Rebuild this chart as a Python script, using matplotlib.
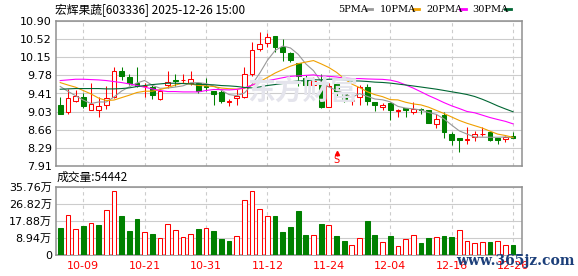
import matplotlib
matplotlib.use('Agg')
import matplotlib.pyplot as plt
from matplotlib.lines import Line2D
import numpy as np
import pandas as pd

plt.rcParams['font.family'] = ['DejaVu Sans', 'Noto Sans CJK SC']

# trading days shown on the chart
dates = ['09-26', '09-29', '09-30', '10-09', '10-10', '10-13', '10-14', '10-15', '10-16', '10-17',
         '10-20', '10-21', '10-22', '10-23', '10-24', '10-27', '10-28', '10-29', '10-30', '10-31',
         '11-03', '11-04', '11-05', '11-06', '11-07', '11-10', '11-11', '11-12', '11-13', '11-14',
         '11-17', '11-18', '11-19', '11-20', '11-21', '11-24', '11-25', '11-26', '11-27', '11-28',
         '12-01', '12-02', '12-03', '12-04', '12-05', '12-08', '12-09', '12-10', '12-11', '12-12',
         '12-15', '12-16', '12-17', '12-18', '12-19', '12-22', '12-23', '12-24', '12-25', '12-26']

opens = [9.17, 9.02, 9.25, 9.34, 9.06, 9.06, 9.16, 9.34, 9.87, 9.75,
         9.62, 9.555, 9.53, 9.29, 9.57, 9.69, 9.68, 9.63, 9.63, 9.56,
         9.46, 9.43, 9.23, 9.32, 9.34, 9.80, 10.32, 10.45, 10.59, 10.36,
         10.25, 10.03, 9.72, 9.58, 9.60, 9.12, 9.60, 9.39, 9.25, 9.34,
         9.53, 9.23, 9.12, 9.20, 9.05, 9.10, 9.03, 9.085, 9.055, 8.77,
         8.965, 8.575, 8.49, 8.45, 8.50, 8.56, 8.61, 8.485, 8.47, 8.535]
highs = [9.34, 9.50, 9.48, 9.41, 9.62, 9.34, 9.55, 9.96, 9.96, 9.80,
         9.96, 9.62, 9.58, 9.45, 9.87, 9.80, 9.80, 9.86, 9.63, 9.73,
         9.46, 9.48, 9.30, 9.50, 9.96, 10.475, 10.67, 10.65, 10.60, 10.52,
         10.27, 10.03, 9.79, 9.755, 9.80, 9.63, 9.65, 9.44, 9.34, 9.58,
         9.60, 9.23, 9.21, 9.23, 9.09, 9.10, 9.23, 9.10, 9.07, 8.98,
         9.03, 8.61, 8.49, 8.71, 8.64, 8.71, 8.61, 8.49, 8.52, 8.62]
lows = [8.99, 8.98, 9.24, 9.10, 9.06, 8.93, 9.09, 9.31, 9.69, 9.57,
        9.54, 9.33, 9.29, 9.27, 9.52, 9.55, 9.62, 9.59, 9.425, 9.45,
        9.16, 9.21, 9.15, 9.16, 9.32, 9.77, 10.28, 10.37, 10.27, 10.08,
        10.06, 9.55, 9.53, 9.58, 9.11, 9.12, 9.34, 9.23, 9.17, 9.17,
        9.17, 9.035, 9.07, 8.86, 8.93, 8.93, 8.98, 8.98, 8.79, 8.69,
        8.49, 8.34, 8.20, 8.36, 8.42, 8.52, 8.43, 8.36, 8.41, 8.485]
closes = [8.99, 9.31, 9.36, 9.14, 9.19, 9.15, 9.31, 9.87, 9.76, 9.62,
          9.55, 9.565, 9.38, 9.45, 9.64, 9.655, 9.69, 9.70, 9.46, 9.54,
          9.405, 9.26, 9.245, 9.36, 9.80, 10.30, 10.42, 10.57, 10.37, 10.26,
          10.10, 9.77, 9.58, 9.67, 9.12, 9.55, 9.43, 9.255, 9.265, 9.53,
          9.25, 9.16, 9.17, 9.055, 9.065, 9.07, 9.08, 9.055, 8.795, 8.875,
          8.605, 8.44, 8.455, 8.47, 8.57, 8.58, 8.44, 8.45, 8.505, 8.49]
# volume in 10k shares
volumes = [14.2, 20.9, 13.5, 15.2, 16.8, 15.7, 23.5, 33.3, 20.6, 12.6,
           18.8, 12.1, 11.1, 8.8, 16.2, 13.1, 9.5, 11.1, 13.6, 14.2,
           12.6, 8.5, 7.4, 10.0, 28.7, 33.3, 24.0, 20.4, 20.4, 12.1,
           14.7, 23.0, 10.7, 10.5, 16.4, 15.7, 10.0, 7.4, 5.4, 8.8,
           17.8, 10.5, 6.9, 10.0, 4.8, 8.5, 10.5, 6.4, 9.0, 9.5,
           10.0, 9.5, 13.1, 7.4, 6.4, 6.9, 6.9, 7.4, 5.4, 5.4442]

# moving average values before the window is full
ma5_head = [9.55, 9.45, 9.36, 9.27]
ma10_head = [9.63, 9.58, 9.535, 9.466, 9.397, 9.31, 9.26, 9.27, 9.32]
ma20_head = [9.672, 9.685, 9.699, 9.699, 9.692, 9.685, 9.672, 9.651, 9.63, 9.603,
             9.569, 9.535, 9.50, 9.466, 9.445, 9.445, 9.438, 9.438, 9.438]
ma30_head = [9.493, 9.50, 9.507, 9.507, 9.507, 9.507, 9.50, 9.50, 9.507, 9.521,
             9.548, 9.569, 9.589, 9.603, 9.617, 9.617, 9.61, 9.603, 9.596, 9.589,
             9.583, 9.569, 9.562, 9.55, 9.53, 9.52, 9.54, 9.57, 9.59]

price_ticks = ['7.91', '8.29', '8.66', '9.03', '9.41', '9.78', '10.15', '10.52', '10.90']
vol_ticks = ['0', '8.94万', '17.88万', '26.82万', '35.76万']
date_ticks = ['10-09', '10-21', '10-31', '11-12', '11-24', '12-04', '12-16', '12-26']

o = np.array(opens)
h = np.array(highs)
l = np.array(lows)
c = np.array(closes)
v = np.array(volumes)
x = np.arange(len(c))

cs = pd.Series(c)
mas = []
for n, head in [(5, ma5_head), (10, ma10_head), (20, ma20_head), (30, ma30_head)]:
    m = cs.rolling(n).mean().to_numpy()
    m[:n - 1] = head
    mas.append(m)
ma_colors = ['#999999', '#f0a000', '#ff00ff', '#006633']

RED = '#ff0000'
GREEN = '#008000'
GRID = '#cccccc'
FRAME = '#909090'
LW = 0.75

fig = plt.figure(figsize=(5.78, 2.76), dpi=100)
W, H = 578.0, 276.0
ax = fig.add_axes([56 / W, 1 - 166 / H, 466 / W, 145 / H])
axv = fig.add_axes([56 / W, 1 - 255.3 / H, 466 / W, 68.8 / H])

# candles
up = c >= o
cols = np.where(up, RED, GREEN)
ax.vlines(x, l, h, colors=cols, lw=LW, zorder=3)
body_b = np.minimum(o, c)
body_h = np.maximum(np.abs(c - o), 0.008)
ax.bar(x, body_h, 0.62, bottom=body_b, color=np.where(up, 'white', GREEN),
       edgecolor=cols, lw=LW, zorder=4)

for m, col in zip(mas, ma_colors):
    ax.plot(x, m, color=col, lw=0.8, zorder=5)

# sell marker
ax.text(36, 8.035, 'S', color=RED, fontsize=7, ha='center', va='center', zorder=6)
ax.vlines(36, 8.11, 8.16, colors=RED, lw=LW, zorder=6)
ax.plot([36], [8.175], marker='^', ms=3, color=RED, zorder=6)

# volume
prev = np.r_[o[0], c[:-1]]
vup = c > prev
vcols = np.where(vup, RED, GREEN)
axv.bar(x, v, 0.62, color=np.where(vup, 'white', GREEN), edgecolor=vcols, lw=LW, zorder=3)

tick_pos = [dates.index(d) for d in date_ticks]
for a in (ax, axv):
    a.set_xlim(-0.55, 60.17)
    a.set_xticks(tick_pos)
    a.grid(axis='x', color=GRID, ls=(0, (3, 3)), lw=0.8)
    a.grid(axis='y', color=GRID, lw=0.8)
    a.set_axisbelow(True)
    for s in a.spines.values():
        s.set_color(FRAME)
        s.set_linewidth(1.1)
    a.tick_params(length=0, labelsize=8, pad=3)

ax.set_ylim(7.91, 10.90)
ax.set_yticks(np.linspace(7.91, 10.90, len(price_ticks)))
ax.set_yticklabels(price_ticks)
ax.set_xticklabels([])

axv.set_ylim(0, 35.76)
axv.set_yticks(np.linspace(0, 35.76, len(vol_ticks)))
axv.set_yticklabels(vol_ticks)
axv.set_xticklabels(date_ticks, color=RED)
axv.tick_params(axis='x', pad=4)

# watermark
fig.text(247 / W, 1 - 92 / H, '东方财富', fontsize=20, color='#e4e4ec', weight='bold',
         family=['Noto Sans CJK SC'], va='center', ha='left', zorder=1)

# titles and legend
fig.text(55 / W, 1 - 10 / H, '宏辉果蔬[603336] 2025-12-26 15:00', fontsize=8.5,
         family=['Noto Sans CJK SC'], va='center')
fig.text(57 / W, 1 - 177.5 / H, '成交量:%d' % round(v[-1] * 10000), fontsize=8.5,
         family=['Noto Sans CJK SC'], va='center')
legend_items = [('5PMA', 338, 366), ('10PMA', 380, 413), ('20PMA', 426, 460), ('30PMA', 472, 505)]
for (lab, tx, lx), col in zip(legend_items, ma_colors):
    fig.text(tx / W, 1 - 9 / H, lab, fontsize=7, va='center', family=['DejaVu Serif'])
    fig.add_artist(Line2D([lx / W, (lx + 6) / W], [1 - 9 / H, 1 - 9 / H], color=col, lw=2))

fig.text(456 / W, 1 - 261 / H, 'www.365jz.com', fontsize=10, color='#1c3f7a',
         weight='bold', family=['DejaVu Serif'], va='center', zorder=10)

fig.savefig('out.png', dpi=100, facecolor='white')
